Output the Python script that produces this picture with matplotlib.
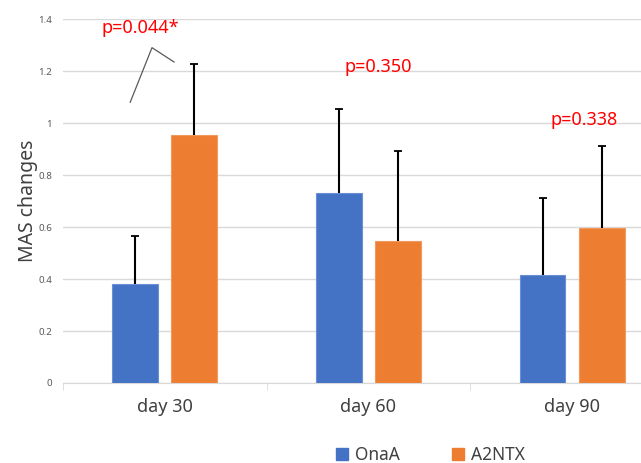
import numpy as np
import matplotlib.pyplot as plt
from matplotlib.patches import Patch

plt.rcParams['font.family'] = ['Noto Sans', 'DejaVu Sans']

# Данные
days = ['day 30', 'day 60', 'day 90']
onaa = [0.38, 0.73, 0.415]
onaa_err = [0.185, 0.325, 0.295]
a2ntx = [0.955, 0.545, 0.597]
a2ntx_err = [0.272, 0.348, 0.316]
p_labels = ['p=0.044*', 'p=0.350', 'p=0.338']

blue = '#4472C4'
orange = '#ED7D31'

fig = plt.figure(figsize=(6.41, 4.63), dpi=100)
ax = fig.add_axes([0.0983, 0.1728, 0.953, 0.786])

x = np.arange(len(days))
w = 0.225
off = 0.145
ax.bar(x - off, onaa, w, color=blue, edgecolor='#6A8FD6', linewidth=0.8, zorder=3)
ax.bar(x + off, a2ntx, w, color=orange, edgecolor='#F19A60', linewidth=0.8, zorder=3)

# Планки погрешностей только вверх
for xs, vals, errs in [(x - off, onaa, onaa_err), (x + off, a2ntx, a2ntx_err)]:
    tops = np.array(vals) + np.array(errs)
    ax.vlines(xs, vals, tops, color='black', lw=1.5, zorder=4)
    ax.plot(xs, tops, ls='none', marker='_', ms=6, mew=1.3, color='black', zorder=4)

# p-значения
p_pos = [(-0.118, 1.365), (1.05, 1.215), (2.06, 1.013)]
for (px, py), txt in zip(p_pos, p_labels):
    ax.text(px, py, txt, color='#FF0000', fontsize=13, ha='center', va='center')
ax.plot([-0.17, -0.063, 0.045], [1.08, 1.29, 1.235], color='#595959', lw=0.9, zorder=5)

ax.set_xlim(-0.5, 2.5)
ax.set_ylim(0, 1.4)
ax.set_yticks(np.arange(0, 1.41, 0.2))
ax.set_yticklabels(['0', '0.2', '0.4', '0.6', '0.8', '1', '1.2', '1.4'])
ax.tick_params(axis='y', length=0, labelsize=7, labelcolor='#595959', pad=8)
ax.set_xticks(x)
ax.set_xticklabels(days)
ax.tick_params(axis='x', length=0, labelsize=13, labelcolor='#404040', pad=11)
ax.set_xticks([-0.5, 0.5, 1.5, 2.5], minor=True)
ax.tick_params(axis='x', which='minor', length=5, color='#D9D9D9')
ax.grid(axis='y', color='#D9D9D9', lw=1, zorder=0)
for s in ['top', 'right', 'left']:
    ax.spines[s].set_visible(False)
ax.spines['bottom'].set_color('#D9D9D9')
ax.set_ylabel('MAS changes', fontsize=14, color='#404040', labelpad=0)

handles = [Patch(color=blue, label='OnaA'), Patch(color=orange, label='A2NTX')]
fig.legend(handles=handles, loc='center', bbox_to_anchor=(0.672, 0.018), ncol=2,
           frameon=False, fontsize=12.5, handlelength=0.7, handleheight=0.7,
           columnspacing=3.0, handletextpad=0.4, labelcolor='#404040')

fig.savefig('out.png', dpi=100)
